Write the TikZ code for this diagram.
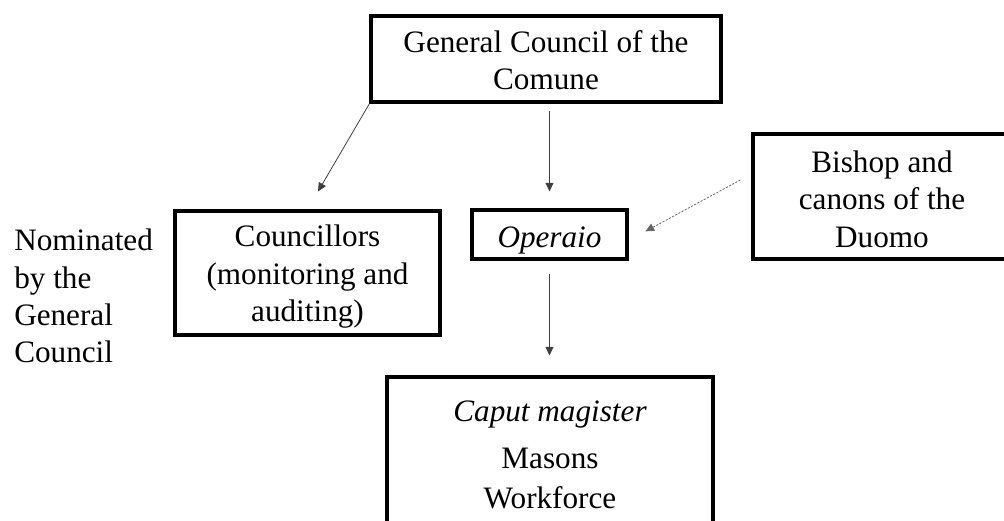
\documentclass[tikz,border=0pt]{standalone}
\usepackage{fontspec}
\setmainfont{Liberation Serif}
\usetikzlibrary{arrows.meta}
\tikzset{
  box/.style={draw=black, line width=2.3pt, rectangle, inner sep=0pt, align=center,
    font=\fontsize{23.4}{28}\selectfont},
  plain/.style={inner sep=0pt, align=center, font=\fontsize{23.4}{28}\selectfont},
  arr/.style={draw=black!75, line width=0.6pt, -{Triangle[length=6.5pt,width=6pt]}},
  dotarr/.style={draw=black!60, line width=0.6pt, dash pattern=on 1.6pt off 1.1pt,
    -{Triangle[length=6.5pt,width=6pt]}}
}
\begin{document}
\begin{tikzpicture}[x=0.75pt,y=-0.75pt]
\useasboundingbox (0,0) rectangle (1004,521);
\clip (0,0) rectangle (1004,521);
\node[box, minimum width=262.5pt, minimum height=64.5pt] (gc) at (546,59)
  {\rule{0pt}{18pt}General Council of the\\Comune};
\node[box, minimum width=198.75pt, minimum height=93pt] (cons) at (307.5,273)
  {\rule{0pt}{22pt}Councillors\\(monitoring and\\auditing)};
\node[box, minimum width=116.25pt, minimum height=36.75pt] (op) at (549.5,234.5)
  {\rule{0pt}{25pt}\itshape Operaio};
\node[box, minimum width=207.75pt, minimum height=93.75pt] (bish) at (891.5,196.5) {};
\node[plain] (bishtxt) at (882,196.5)
  {\rule{0pt}{20pt}Bishop and\\canons of the\\Duomo};
\node[box, minimum width=244.5pt, minimum height=117pt] (cap) at (550,455)
  {\itshape Caput magister\\[7pt]Masons\\[2pt]Workforce};
\node[plain, align=left, anchor=west] (nom) at (14,296)
  {Nominated\\by the\\General\\Council};
\draw[arr, shorten >=15.6pt] (gc.south west) -- (cons.north);
\draw[arr, shorten <=5.25pt, shorten >=12.75pt] (gc.south -| op.north) -- (op.north);
\draw[arr, shorten <=9.75pt, shorten >=15pt] (op.south) -- (op.south |- cap.north);
\draw[dotarr, shorten <=9.4pt, shorten >=14.4pt] ([yshift=16.9pt]bish.west) -- ([yshift=-4.5pt]op.east);
\end{tikzpicture}
\end{document}
